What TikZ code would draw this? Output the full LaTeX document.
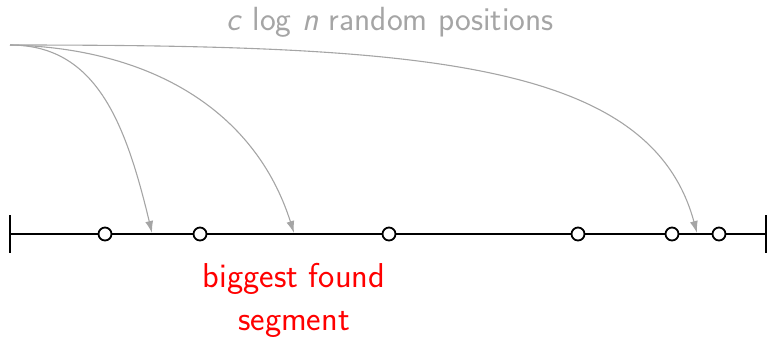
\documentclass[tikz,border=0pt]{standalone}
\usetikzlibrary{arrows.meta}
\begin{document}
\begin{tikzpicture}[x=1pt,y=-1pt,
  mark circ/.style={circle,draw=black,line width=1.8pt,fill=white,minimum size=13pt,inner sep=0pt},
  axis/.style={line width=1.8pt,black},
  probe/.style={draw={rgb,255:red,165;green,165;blue,165},line width=1.1pt,-{Latex[length=12pt,width=8pt]}},
  graytext/.style={text={rgb,255:red,165;green,165;blue,165},font=\sffamily\fontsize{33.5}{38}\selectfont},
  redtext/.style={text=red,font=\sffamily\fontsize{34.5}{40}\selectfont}]
\useasboundingbox (0,0) rectangle (767,341);
\coordinate (L) at (10,234);
\coordinate (R) at (766,234);
\draw[axis] (L) -- (R);
\draw[axis] (10,215) -- (10,253);
\draw[axis] (766,215) -- (766,253);
\foreach \n/\x in {c1/105,c2/200,c3/389,c4/578,c5/672,c6/719}
  \node[mark circ] (\n) at (\x,234) {};
\coordinate (s) at (10,45);
\coordinate (a1) at (152,233);
\coordinate (a2) at (294,233);
\coordinate (a3) at (697,233);
\draw[probe] (s) .. controls (95,45) and (125,120) .. (a1);
\draw[probe] (s) .. controls (150,48) and (255,110) .. (a2);
\draw[probe] (s) .. controls (420,45) and (650,60) .. (a3);
\node[graytext] (title) at (390,22) {\textit{c} log \textit{n} random positions};
\node[redtext] (lab1) at (294,279) {biggest found};
\node[redtext] (lab2) at (294,324) {segment};
\end{tikzpicture}
\end{document}
